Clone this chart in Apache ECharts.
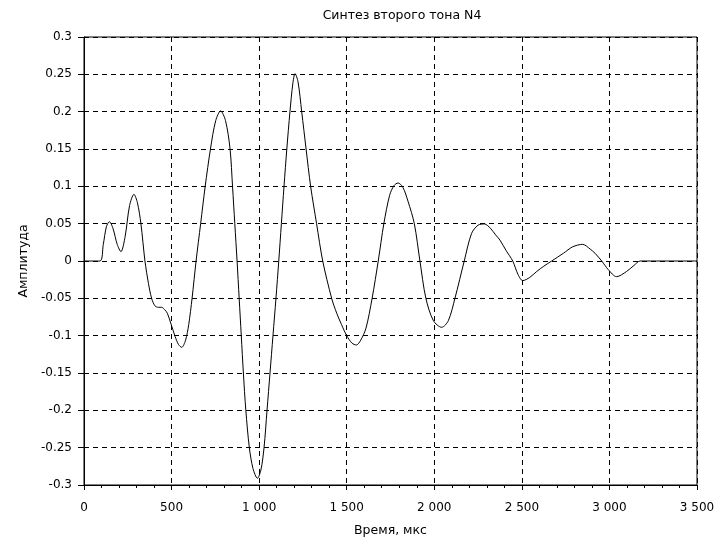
<!DOCTYPE html>
<html>
<head>
<meta charset="utf-8">
<script src="https://cdn.jsdelivr.net/npm/echarts@6/dist/echarts.min.js"></script>
<style>
html,body{margin:0;padding:0;background:#fff;}
#chart{width:721px;height:541px;}
</style>
</head>
<body>
<div id="chart"></div>
<script>
var titleText = 'Синтез второго тона N4';
var xName = 'Время, мкс';
var yName = 'Амплитуда';

var times = [0, 91, 110, 128, 145, 165, 190, 211, 235, 260, 285, 305, 325, 348, 368, 386, 405, 425, 443, 460, 476, 495, 520, 540, 558, 580, 598, 617, 640, 666, 692, 722, 752, 780, 808, 834, 848, 861, 874, 886, 898, 910, 924, 944, 965, 990, 1010, 1028, 1045, 1062, 1079, 1096, 1112, 1127, 1142, 1158, 1176, 1192, 1205, 1222, 1243, 1268, 1294, 1328, 1363, 1414, 1443, 1470, 1500, 1530, 1555, 1580, 1610, 1645, 1680, 1712, 1745, 1770, 1793, 1820, 1850, 1886, 1918, 1952, 1995, 2042, 2080, 2118, 2171, 2213, 2250, 2286, 2320, 2350, 2375, 2410, 2448, 2478, 2505, 2545, 2585, 2625, 2670, 2737, 2790, 2847, 2890, 2918, 2956, 2994, 3041, 3098, 3140, 3175, 3300, 3500];
var amps  = [0, 0, 0.022, 0.046, 0.0527, 0.044, 0.022, 0.0125, 0.033, 0.074, 0.0893, 0.078, 0.050, 0, -0.030, -0.050, -0.060, -0.062, -0.062, -0.065, -0.070, -0.083, -0.101, -0.112, -0.1156, -0.106, -0.085, -0.050, 0, 0.050, 0.100, 0.150, 0.188, 0.201, 0.188, 0.150, 0.100, 0.050, 0, -0.050, -0.100, -0.150, -0.200, -0.250, -0.278, -0.291, -0.280, -0.250, -0.200, -0.150, -0.100, -0.050, 0, 0.050, 0.100, 0.150, 0.200, 0.237, 0.251, 0.240, 0.200, 0.150, 0.100, 0.050, 0, -0.050, -0.070, -0.085, -0.100, -0.110, -0.1125, -0.106, -0.090, -0.050, 0, 0.050, 0.088, 0.101, 0.1045, 0.099, 0.080, 0.050, 0, -0.050, -0.080, -0.0888, -0.080, -0.050, 0, 0.037, 0.048, 0.0496, 0.044, 0.035, 0.028, 0.014, 0, -0.018, -0.0263, -0.022, -0.014, -0.007, 0, 0.0103, 0.019, 0.0223, 0.016, 0.0103, 0, -0.0117, -0.021, -0.014, -0.006, 0, 0, 0];

var xTicks = [0, 500, 1000, 1500, 2000, 2500, 3000, 3500];
var yTicks = [-0.3, -0.25, -0.2, -0.15, -0.1, -0.05, 0, 0.05, 0.1, 0.15, 0.2, 0.25, 0.3];

var seriesData = times.map(function (t, i) { return [t, amps[i]]; });

var font = 'DejaVu Sans, Verdana, sans-serif';
var chart = echarts.init(document.getElementById('chart'), null, {renderer: 'canvas'});
chart.setOption({
  animation: false,
  backgroundColor: '#fff',
  title: {
    text: titleText,
    left: 397, top: 4, textAlign: 'center',
    textStyle: {fontFamily: font, fontSize: 12.5, fontWeight: 'normal', color: '#000'}
  },
  grid: {
    left: 84, right: 24, top: 37, bottom: 56,
    outerBoundsMode: 'none', containLabel: false,
    show: true, borderColor: '#000', borderWidth: 1, backgroundColor: 'transparent'
  },
  xAxis: {
    type: 'value',
    min: xTicks[0], max: xTicks[xTicks.length - 1], interval: 500,
    name: xName, nameLocation: 'middle', nameGap: 39,
    nameTextStyle: {fontFamily: font, fontSize: 12.5, color: '#000'},
    axisLine: {show: true, onZero: false, lineStyle: {color: '#000', width: 1}},
    axisTick: {show: true, length: 5, lineStyle: {color: '#000'}},
    minorTick: {show: true, splitNumber: 5, length: 3, lineStyle: {color: '#000'}},
    axisLabel: {
      fontFamily: font, fontSize: 12, color: '#000', margin: 17,
      formatter: function (v) { return String(v).replace(/\B(?=(\d{3})+(?!\d))/g, ' '); }
    },
    splitLine: {show: true, lineStyle: {color: '#000', type: [5, 4], width: 1}}
  },
  yAxis: {
    type: 'value',
    min: yTicks[0], max: yTicks[yTicks.length - 1], interval: 0.05,
    name: yName, nameLocation: 'middle', nameGap: 54, nameRotate: 90,
    nameTextStyle: {fontFamily: font, fontSize: 12.5, color: '#000'},
    axisLine: {show: true, onZero: false, lineStyle: {color: '#000', width: 1}},
    axisTick: {show: true, length: 6, lineStyle: {color: '#000'}},
    axisLabel: {
      fontFamily: font, fontSize: 12, color: '#000', margin: 12,
      formatter: function (v) { return String(Number(v.toFixed(2))); }
    },
    splitLine: {show: true, lineStyle: {color: '#000', type: [5, 4], width: 1}}
  },
  series: [{
    type: 'line',
    data: seriesData,
    showSymbol: false,
    smooth: 0.3,
    lineStyle: {color: '#000', width: 1},
    itemStyle: {color: '#000'}
  }]
});
</script>
</body>
</html>
